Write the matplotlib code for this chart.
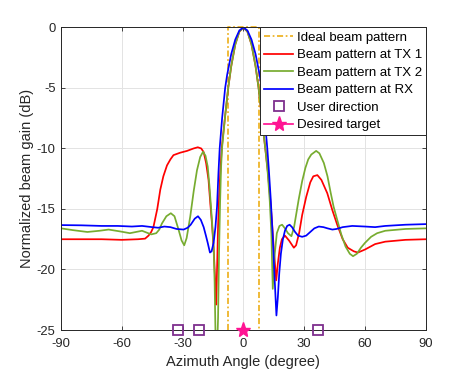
import numpy as np
import matplotlib
matplotlib.use("Agg")
import matplotlib.pyplot as plt

plt.rcParams['font.family'] = ['Liberation Sans', 'DejaVu Sans']

# ---------------- data ----------------
ideal_angles = [-7.5, -7.5, 7.5, 7.5]
ideal_gain = [-25, 0, 0, -25]

tx1_angles = [-90, -80, -70, -60, -52, -48.5, -46.8, -45.5, -44.4, -42.5, -41, -39.5, -37.7, -36, -34.5,
              -31.2, -27.8, -24.6, -22.5, -20.8, -19.6, -18.4, -17.2, -16.3, -15.5, -14.6, -13.9, -13.4,
              -13.0, -12.5, -12, -11.4, -10.7, -9, -7.5, -6, -4, -2, 0,
              2, 4, 6, 7.5, 9, 10, 11, 12, 13, 14, 15, 16.2, 17, 18, 19, 20.5, 22.5, 24.9, 26, 27.5,
              29, 31, 33, 34.5, 36.5, 38.5, 41.4, 43.9, 46.3, 49, 51.5, 54.5, 56.5, 60, 65, 70, 80, 90]
tx1_gain = [-17.5, -17.5, -17.5, -17.55, -17.5, -17.45, -17.2, -16.9, -16.5, -15.0, -13.4, -12.3, -11.4, -10.9, -10.55,
            -10.35, -10.2, -10.0, -9.9, -10.0, -10.3, -11.2, -12.6, -14.6, -16.2, -18.5, -21.0, -22.9,
            -20.0, -16.5, -14.0, -12.0, -10.0, -7.3, -5.0, -3.2, -1.4, -0.35, 0.0,
            -0.35, -1.4, -3.2, -5.0, -7.3, -8.8, -10.3, -11.8, -13.7, -15.8, -18.3, -20.9, -19.5, -18.2, -17.5, -17.2, -17.6, -18.2, -18.0, -17.0,
            -15.5, -14.0, -12.8, -12.3, -12.2, -12.6, -13.7, -15.1, -16.3, -17.5, -18.2, -18.5, -18.6, -18.35, -17.9, -17.7, -17.55, -17.5]

tx2_angles = [-90, -84, -77, -71, -66.5, -61, -56, -50, -45.5, -43, -41.5, -40.2, -38, -35.8, -34, -32,
              -30.5, -29.2, -28, -26.2, -24.5, -22.9, -21.3, -19.9, -18.7, -17.6, -16.8, -16.0, -15.3,
              -14.7, -14.2, -13.8, -13.2, -12.5, -12, -11.5, -11, -10.5, -9, -7.5, -6, -4, -2, 0,
              2, 4, 6, 7.5, 9, 10, 11, 12, 13, 13.8, 14.5, 15.3, 16.5, 17.8, 19.1, 20.5, 22, 23.7, 25, 26,
              27.3, 29, 30.6, 32, 33.5, 35.9, 37.5, 39.7, 41.5, 43, 44.5, 46.3, 48.3, 50.4, 52.5, 54.1,
              56, 58, 60, 63, 66, 70, 80, 90]
tx2_gain = [-16.6, -16.75, -16.9, -16.8, -16.7, -16.85, -17.0, -16.8, -17.1, -17.0, -16.7, -16.2, -15.6, -15.35, -15.6, -16.7,
            -17.6, -18.0, -17.4, -15.6, -13.5, -11.8, -10.7, -10.27, -10.6, -11.5, -13.0, -14.8, -16.5,
            -18.1, -21.0, -25.0, -28.0, -24.0, -18.5, -14.5, -11.5, -9.9, -7.3, -5.0, -3.2, -1.4, -0.35, 0.0,
            -0.35, -1.4, -3.2, -5.0, -7.3, -8.8, -10.3, -12.0, -14.3, -17.0, -21.6, -19.0, -17.0, -16.4, -16.3, -16.6, -17.0, -17.25, -16.5, -15.5,
            -14.2, -12.7, -11.6, -10.9, -10.5, -10.2, -10.4, -11.2, -12.3, -13.6, -14.8, -15.9, -17.1, -18.1, -18.7, -18.9,
            -18.7, -18.2, -17.8, -17.3, -17.0, -16.8, -16.65, -16.6]

rx_angles = [-90, -80, -70, -62, -55, -50, -45, -42, -39, -36, -33, -29.5, -27.5, -26, -24, -22.4, -21,
             -19.6, -18.5, -17.6, -16.5, -15.7, -14.7, -13.8, -13, -12.3, -11.7, -10.5, -9, -8, -6, -4, -2, 0,
             2, 4, 6, 8, 9, 10.5, 11.8, 12.5, 13.5, 14.5, 15.4, 16.3, 17, 17.7, 18.5, 19.5, 20.5, 21.6,
             22.8, 24, 25.5, 27, 29, 31, 33, 35, 37.2, 39.5, 41.5, 43.9, 46, 49, 53.7, 60, 65, 70, 80, 90]
rx_gain = [-16.33, -16.35, -16.4, -16.4, -16.45, -16.4, -16.5, -16.55, -16.45, -16.5, -16.65, -16.7, -16.55, -16.3, -15.8, -15.6, -15.9,
           -16.5, -17.2, -17.8, -18.6, -18.5, -17.8, -16.5, -14.8, -12.0, -10.0, -7.5, -5.0, -3.9, -2.2, -1.0, -0.25, 0.0,
           -0.25, -1.0, -2.2, -3.9, -5.0, -7.5, -10.0, -11.6, -14.2, -17.3, -20.7, -23.8, -22.3, -20.3, -18.7, -17.5, -16.8, -16.4,
           -16.3, -16.5, -16.9, -17.2, -17.3, -17.2, -16.9, -16.6, -16.45, -16.5, -16.6, -16.7, -16.65, -16.5, -16.4, -16.45, -16.5, -16.4, -16.3, -16.25]

user_angles = [-32.5, -22, 37]
target_angles = [0]

x_ticks = [-90, -60, -30, 0, 30, 60, 90]
y_ticks = [-25, -20, -15, -10, -5, 0]

# ---------------- figure ----------------
fig = plt.figure(figsize=(4.71, 3.71), dpi=100)
ax = fig.add_axes([0.1295, 0.1105, 0.7745, 0.8155])

edge = '#262626'
lw = 1.25

ax.plot(ideal_angles, ideal_gain, linestyle=(0, (3.5, 1.5, 1.0, 1.5)), color='#EDB120', lw=lw,
        clip_on=False, label='Ideal beam pattern')
ax.plot(tx1_angles, tx1_gain, color='#FF0000', lw=lw, label='Beam pattern at TX 1')
ax.plot(tx2_angles, tx2_gain, color='#77AC30', lw=lw, label='Beam pattern at TX 2')
ax.plot(rx_angles, rx_gain, color='#0000FF', lw=lw, label='Beam pattern at RX')
ax.plot(user_angles, [-25] * len(user_angles), linestyle='none', marker='s', ms=7.5,
        mfc='none', mec='#7E2F8E', mew=1.3, clip_on=False, zorder=5, label='User direction')
ax.plot(target_angles, [-25] * len(target_angles), linestyle='-', color='#FF1493', marker='*', ms=11,
        mfc='#FF1493', mec='#FF1493', lw=lw, clip_on=False, zorder=6, label='Desired target')

ax.set_xlim(-90, 90)
ax.set_ylim(-25, 0)
ax.set_xticks(x_ticks)
ax.set_yticks(y_ticks)
ax.set_xticklabels([str(t) for t in x_ticks])
ax.set_yticklabels([str(t) for t in y_ticks])

ax.grid(True, color='#E3E3E3', lw=0.7)
ax.set_axisbelow(True)
for s in ax.spines.values():
    s.set_color(edge)
    s.set_linewidth(0.7)
ax.tick_params(direction='in', length=3, width=0.6, colors=edge, labelsize=9.4,
               top=True, right=True)
ax.tick_params(axis='x', pad=6)
ax.tick_params(axis='y', pad=4)

ax.set_xlabel('Azimuth Angle (degree)', fontsize=10.5, color=edge, labelpad=3)
ax.set_ylabel('Normalized beam gain (dB)', fontsize=10.5, color=edge, labelpad=2)

leg = ax.legend(loc='upper right', bbox_to_anchor=(1.0, 1.0), borderaxespad=0,
                fontsize=9.5, handlelength=2.2, handletextpad=0.25, labelspacing=0.4,
                borderpad=0.3, fancybox=False, framealpha=1, edgecolor=edge)
leg.get_frame().set_linewidth(0.7)

fig.savefig('out.png', dpi=100, facecolor='white')
